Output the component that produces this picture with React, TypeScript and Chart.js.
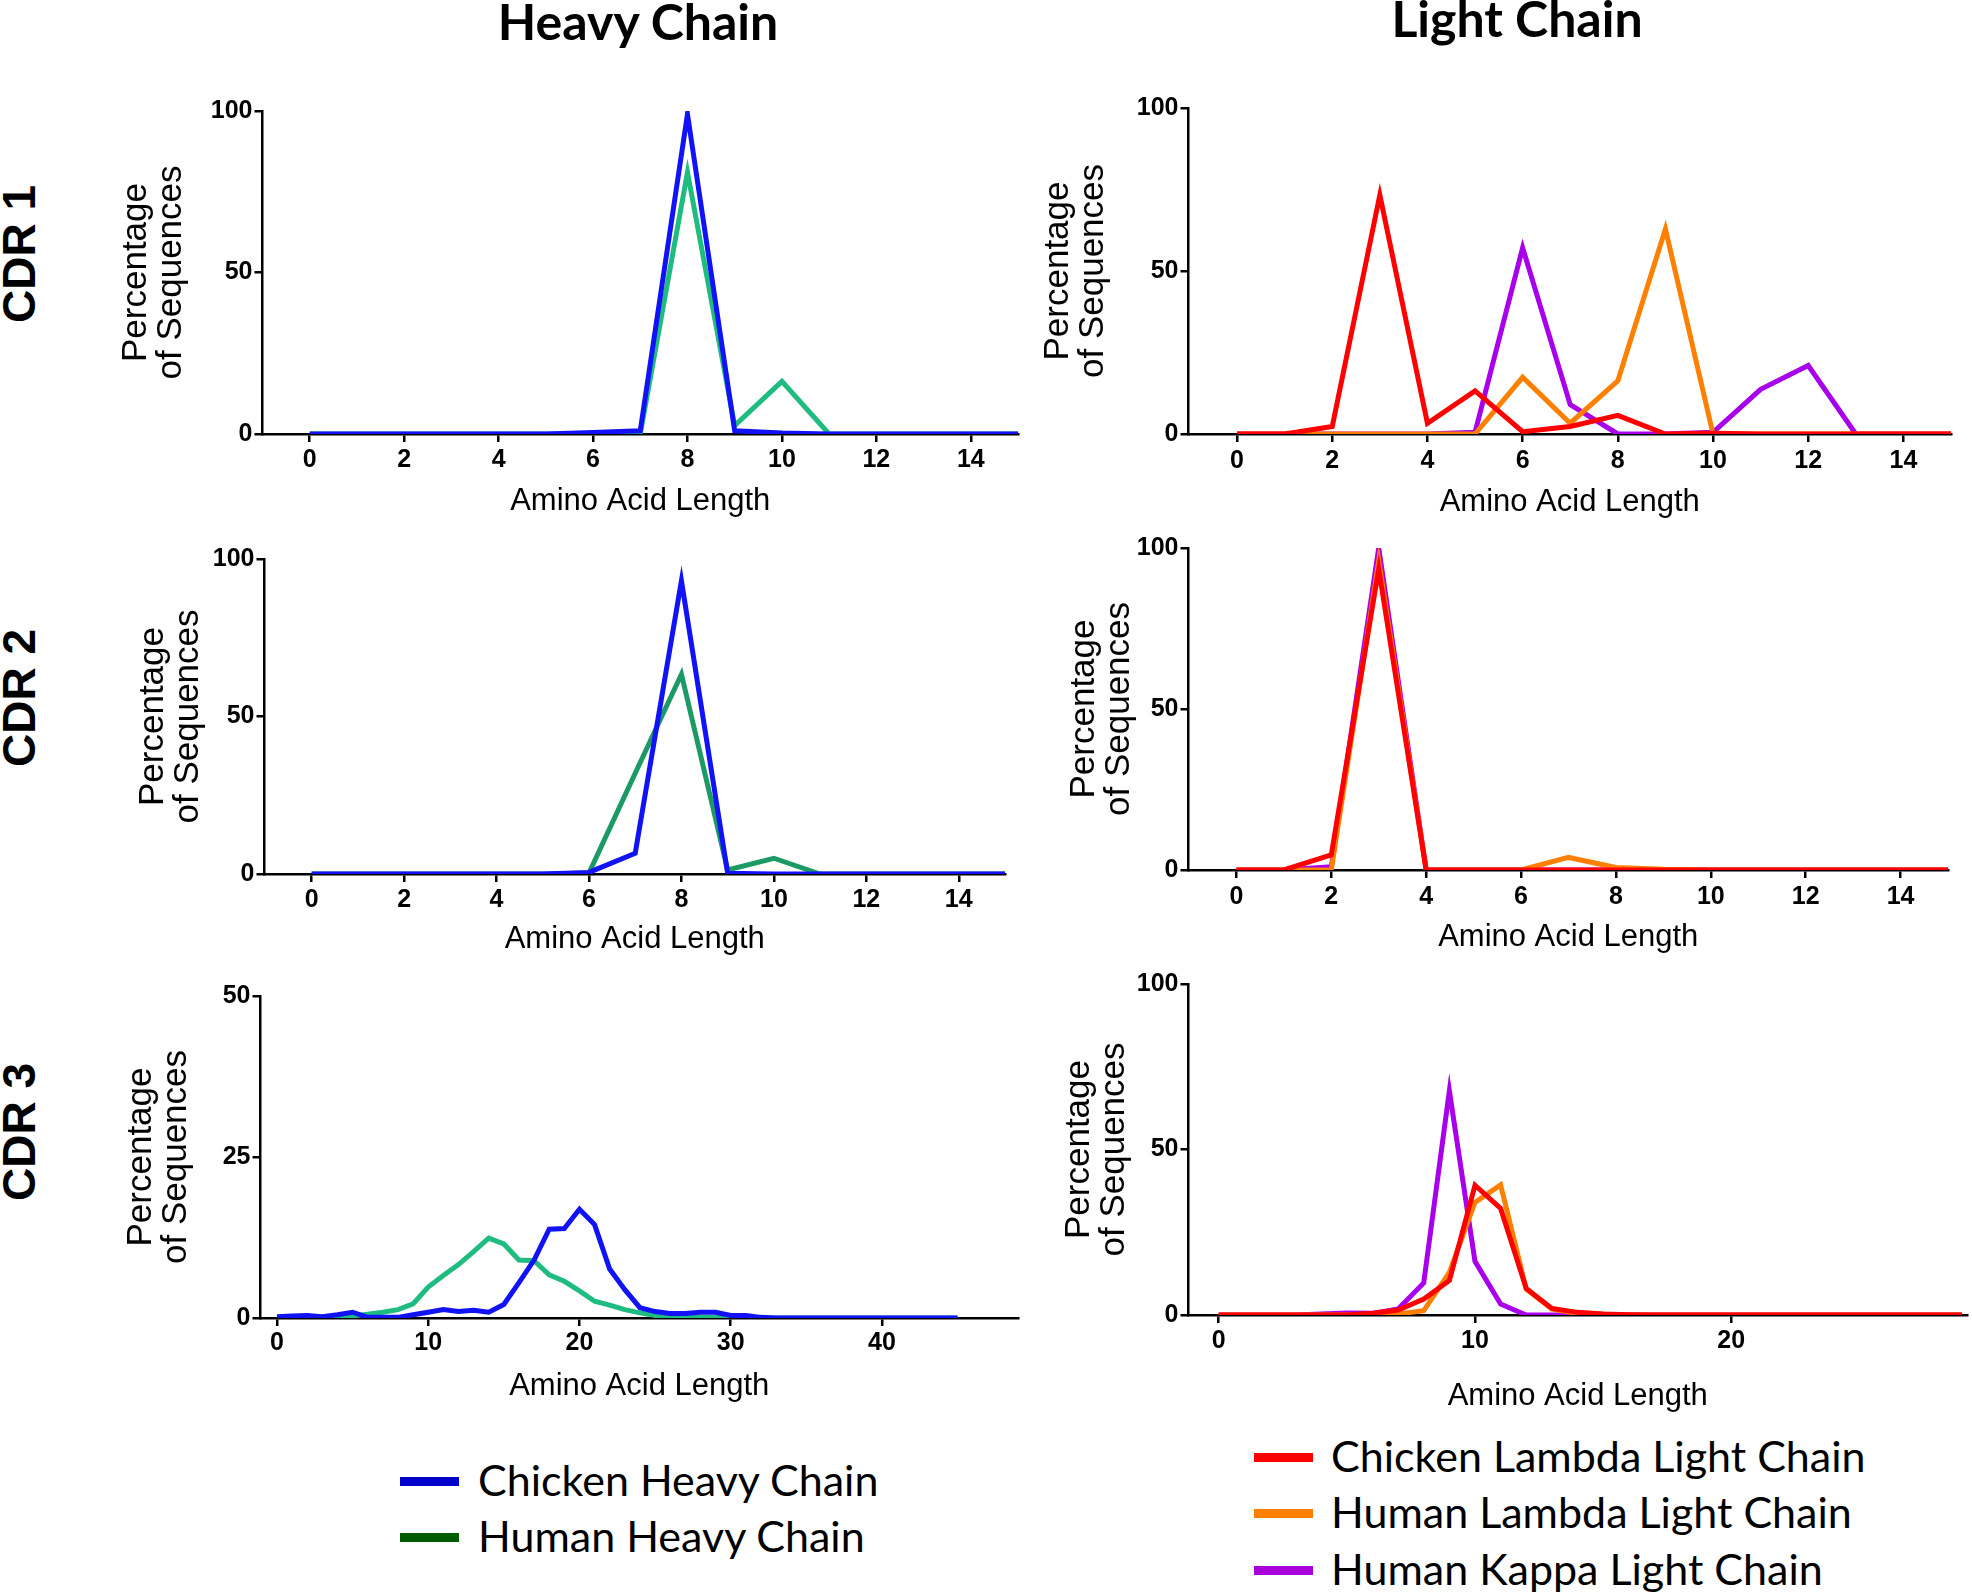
import { useEffect, useRef } from 'react'
import Chart from 'chart.js/auto'

// amino acid lengths on the x axis
const shortLengths = [0, 1, 2, 3, 4, 5, 6, 7, 8, 9, 10, 11, 12, 13, 14, 15]
const heavyCdr3Lengths = [
  0, 1, 2, 3, 4, 5, 6, 7, 8, 9, 10, 11, 12, 13, 14, 15, 16, 17, 18, 19, 20, 21, 22,
  23, 24, 25, 26, 27, 28, 29, 30, 31, 32, 33, 34, 35, 36, 37, 38, 39, 40, 41, 42, 43, 44, 45,
]
const lightCdr3Lengths = [
  0, 1, 2, 3, 4, 5, 6, 7, 8, 9, 10, 11, 12, 13, 14, 15, 16, 17, 18, 19, 20, 21, 22,
  23, 24, 25, 26, 27, 28, 29,
]

// tick labels
const shortTicks = [0, 2, 4, 6, 8, 10, 12, 14]
const heavyCdr3Ticks = [0, 10, 20, 30, 40]
const lightCdr3Ticks = [0, 10, 20]
const percentTicks = [0, 50, 100]
const heavyCdr3PercentTicks = [0, 25, 50]

// CDR 1
const heavyCdr1Chicken = [0, 0, 0, 0, 0, 0, 0.5, 1, 99, 1, 0.3, 0, 0, 0, 0, 0]
const heavyCdr1Human = [0, 0, 0, 0, 0, 0, 0, 0, 81, 2.6, 16.3, 0, 0, 0, 0, 0]
const lightCdr1ChickenLambda = [0, 0, 2.3, 73.3, 3.3, 13.2, 0.7, 2.3, 5.7, 0, 0.2, 0, 0, 0, 0, 0]
const lightCdr1HumanLambda = [0, 0, 0, 0, 0, 0, 17.4, 3.3, 16.3, 62.9, 0, 0, 0, 0, 0, 0]
const lightCdr1HumanKappa = [0, 0, 0, 0, 0, 0.5, 57.1, 9, 0, 0, 0.5, 13.7, 21, 0, 0, 0]

// CDR 2
const heavyCdr2Chicken = [0, 0, 0, 0, 0, 0, 0.5, 6.6, 93.1, 0.2, 0, 0, 0, 0, 0, 0]
const heavyCdr2Human = [0, 0, 0, 0, 0, 0, 0.3, 32, 63.4, 1.3, 5, 0, 0, 0, 0, 0]
const lightCdr2ChickenLambda = [0, 0, 4.7, 93.5, 0, 0, 0, 0, 0, 0, 0, 0, 0, 0, 0, 0]
const lightCdr2HumanLambda = [0, 0, 0, 96, 0, 0, 0, 3.9, 0.8, 0.2, 0, 0, 0, 0, 0, 0]
const lightCdr2HumanKappa = [0, 0, 1, 100, 0, 0, 0, 0, 0, 0, 0, 0, 0, 0, 0, 0]

// CDR 3
const heavyCdr3Chicken = [
  0.2, 0.3, 0.4, 0.2, 0.5, 0.9, 0.1, 0.1, 0.1, 0.5, 0.9, 1.3, 1.0, 1.2, 0.9, 2.1, 5.5, 9.0,
  13.8, 13.9, 16.9, 14.5, 7.6, 4.4, 1.6, 1.0, 0.7, 0.7, 0.9, 0.9, 0.4, 0.4, 0.1, 0, 0, 0,
  0, 0, 0, 0, 0, 0, 0, 0, 0, 0,
]
const heavyCdr3Human = [
  0, 0, 0, 0, 0.1, 0.3, 0.6, 0.9, 1.3, 2.2, 4.8, 6.6, 8.3, 10.3, 12.4, 11.5, 9.0, 8.9, 6.7,
  5.7, 4.2, 2.6, 2.0, 1.3, 0.8, 0.4, 0.3, 0.1, 0.1, 0.1, 0, 0, 0, 0, 0, 0, 0, 0, 0, 0, 0,
  0, 0, 0, 0, 0,
]
const lightCdr3ChickenLambda = [
  0, 0, 0, 0, 0, 0, 0.5, 1.5, 4.8, 10.4, 39.2, 32.2, 8.0, 2.0, 0.8, 0.3, 0.1, 0, 0, 0, 0,
  0, 0, 0, 0, 0, 0, 0, 0, 0,
]
const lightCdr3HumanLambda = [
  0, 0, 0, 0, 0, 0, 0, 0.3, 1.3, 12.9, 34, 39.3, 7.8, 1.8, 0.5, 0.2, 0, 0, 0, 0, 0, 0, 0,
  0, 0, 0, 0, 0, 0, 0,
]
const lightCdr3HumanKappa = [
  0, 0, 0, 0, 0.3, 0.6, 0.5, 1.8, 9.7, 67.7, 16.2, 3.3, 0, 0, 0, 0, 0, 0, 0, 0, 0, 0, 0, 0,
  0, 0, 0, 0, 0, 0,
]

const BLUE = '#1212f6'
const GREEN = '#1fbc80'
const GREEN_DARK = '#1b9a66'
const RED = '#ff0000'
const ORANGE = '#ff8000'
const PURPLE = '#a900ec'

const ARIAL = '"Liberation Sans", Arial, sans-serif'
const CALIBRI = 'Lato, "Open Sans", sans-serif'
const Y_TITLE_SIZE = 35
const X_TITLE_SIZE = 31
const TICK_SIZE = 25
const TICK_LEN = 8
const PAD_TOP = 20
const PAD_RIGHT = 6

interface Series {
  label: string
  values: number[]
  color: string
}

interface Geometry {
  axisX: number
  titleX: number
  yTop: number
  yBottom: number
  xRight: number
  xMin: number
  xMax: number
  tickY: number
  xTitleY: number
}

interface PanelProps {
  g: Geometry
  lengths: number[]
  series: Series[]
  xTicks: number[]
  yTicks: number[]
}

function Panel({ g, lengths, series, xTicks, yTicks }: PanelProps) {
  const chartRef = useRef<HTMLCanvasElement>(null)
  const left = g.titleX - Y_TITLE_SIZE / 2
  const top = g.yTop - PAD_TOP
  const width = Math.round(g.xRight + PAD_RIGHT - left)
  const height = Math.round(g.xTitleY + X_TITLE_SIZE / 2 - top)

  useEffect(() => {
    if (!chartRef.current) return
    const chart = new Chart(chartRef.current, {
      type: 'line',
      data: {
        datasets: series.map((s) => ({
          label: s.label,
          data: lengths.map((x, i) => ({ x, y: s.values[i] })),
          borderColor: s.color,
          backgroundColor: s.color,
          borderWidth: 5,
          pointRadius: 0,
          tension: 0,
          fill: false,
        })),
      },
      options: {
        animation: false,
        responsive: false,
        layout: { padding: { top: PAD_TOP, right: PAD_RIGHT, bottom: 0, left: 0 } },
        plugins: { legend: { display: false }, tooltip: { enabled: false } },
        scales: {
          x: {
            type: 'linear',
            min: g.xMin,
            max: g.xMax,
            afterBuildTicks: (scale) => {
              scale.ticks = xTicks.map((value) => ({ value }))
            },
            afterFit: (scale) => {
              scale.height = height - (g.yBottom - top)
            },
            border: { display: true, color: '#000', width: 2.5 },
            grid: { drawOnChartArea: false, drawTicks: true, tickLength: TICK_LEN, color: '#000', lineWidth: 2.5 },
            ticks: {
              color: '#000',
              autoSkip: false,
              maxRotation: 0,
              padding: g.tickY - g.yBottom - TICK_LEN - TICK_SIZE / 2,
              font: { family: ARIAL, size: TICK_SIZE, weight: 'bold', lineHeight: 1 },
            },
            title: {
              display: true,
              text: 'Amino Acid Length',
              color: '#000',
              padding: 0,
              font: { family: ARIAL, size: X_TITLE_SIZE, lineHeight: 1 },
            },
          },
          y: {
            type: 'linear',
            min: 0,
            max: yTicks[yTicks.length - 1],
            afterBuildTicks: (scale) => {
              scale.ticks = yTicks.map((value) => ({ value }))
            },
            afterFit: (scale) => {
              scale.width = g.axisX - left
            },
            border: { display: true, color: '#000', width: 2.5 },
            grid: { drawOnChartArea: false, drawTicks: true, tickLength: TICK_LEN, color: '#000', lineWidth: 2.5 },
            ticks: {
              color: '#000',
              padding: 2,
              font: { family: ARIAL, size: TICK_SIZE, weight: 'bold', lineHeight: 1 },
            },
            title: {
              display: true,
              text: ['Percentage', 'of Sequences'],
              color: '#000',
              padding: 0,
              font: { family: ARIAL, size: Y_TITLE_SIZE, lineHeight: 1 },
            },
          },
        },
      },
    })
    return () => chart.destroy()
  }, [g, lengths, series, xTicks, yTicks, top, height, left])

  return (
    <canvas
      ref={chartRef}
      width={width}
      height={height}
      style={{ position: 'absolute', left, top, width, height }}
    />
  )
}

const panels: PanelProps[] = [
  {
    g: { axisX: 262, titleX: 136, yTop: 111, yBottom: 434, xMin: -1.0, xMax: 15, xRight: 1017, tickY: 460, xTitleY: 501 },
    lengths: shortLengths,
    series: [
      { label: 'Chicken Heavy Chain', values: heavyCdr1Chicken, color: BLUE },
      { label: 'Human Heavy Chain', values: heavyCdr1Human, color: GREEN },
    ],
    xTicks: shortTicks,
    yTicks: percentTicks,
  },
  {
    g: { axisX: 1188, titleX: 1058, yTop: 108, yBottom: 434, xMin: -1.02, xMax: 15, xRight: 1950, tickY: 461, xTitleY: 502 },
    lengths: shortLengths,
    series: [
      { label: 'Chicken Lambda Light Chain', values: lightCdr1ChickenLambda, color: RED },
      { label: 'Human Lambda Light Chain', values: lightCdr1HumanLambda, color: ORANGE },
      { label: 'Human Kappa Light Chain', values: lightCdr1HumanKappa, color: PURPLE },
    ],
    xTicks: shortTicks,
    yTicks: percentTicks,
  },
  {
    g: { axisX: 264, titleX: 153, yTop: 559, yBottom: 874, xMin: -1.02, xMax: 15, xRight: 1004, tickY: 900, xTitleY: 939 },
    lengths: shortLengths,
    series: [
      { label: 'Chicken Heavy Chain', values: heavyCdr2Chicken, color: BLUE },
      { label: 'Human Heavy Chain', values: heavyCdr2Human, color: GREEN_DARK },
    ],
    xTicks: shortTicks,
    yTicks: percentTicks,
  },
  {
    g: { axisX: 1188, titleX: 1084, yTop: 548, yBottom: 870, xMin: -1.01, xMax: 15, xRight: 1947, tickY: 897, xTitleY: 937 },
    lengths: shortLengths,
    series: [
      { label: 'Chicken Lambda Light Chain', values: lightCdr2ChickenLambda, color: RED },
      { label: 'Human Lambda Light Chain', values: lightCdr2HumanLambda, color: ORANGE },
      { label: 'Human Kappa Light Chain', values: lightCdr2HumanKappa, color: PURPLE },
    ],
    xTicks: shortTicks,
    yTicks: percentTicks,
  },
  {
    g: { axisX: 260, titleX: 141, yTop: 996, yBottom: 1318, xMin: -1.09, xMax: 49, xRight: 1017, tickY: 1343, xTitleY: 1386 },
    lengths: heavyCdr3Lengths,
    series: [
      { label: 'Chicken Heavy Chain', values: heavyCdr3Chicken, color: BLUE },
      { label: 'Human Heavy Chain', values: heavyCdr3Human, color: GREEN },
    ],
    xTicks: heavyCdr3Ticks,
    yTicks: heavyCdr3PercentTicks,
  },
  {
    g: { axisX: 1188, titleX: 1079, yTop: 984, yBottom: 1315, xMin: -1.18, xMax: 29.2, xRight: 1966, tickY: 1341, xTitleY: 1396 },
    lengths: lightCdr3Lengths,
    series: [
      { label: 'Chicken Lambda Light Chain', values: lightCdr3ChickenLambda, color: RED },
      { label: 'Human Lambda Light Chain', values: lightCdr3HumanLambda, color: ORANGE },
      { label: 'Human Kappa Light Chain', values: lightCdr3HumanKappa, color: PURPLE },
    ],
    xTicks: lightCdr3Ticks,
    yTicks: percentTicks,
  },
]

const rowLabels = [
  { text: 'CDR 1', y: 254 },
  { text: 'CDR 2', y: 698 },
  { text: 'CDR 3', y: 1132 },
]

const heavyLegend = [
  { text: 'Chicken Heavy Chain', color: '#0000cc', y: 1481 },
  { text: 'Human Heavy Chain', color: '#005c00', y: 1537 },
]

const lightLegend = [
  { text: 'Chicken Lambda Light Chain', color: '#ff0000', y: 1457 },
  { text: 'Human Lambda Light Chain', color: '#ff8000', y: 1513 },
  { text: 'Human Kappa Light Chain', color: '#aa00dd', y: 1570 },
]

const LEGEND_SIZE = 43

function Legend({ items, lineX, textX }: { items: typeof heavyLegend; lineX: number; textX: number }) {
  return (
    <>
      {items.map((item) => (
        <div key={item.text}>
          <div
            style={{
              position: 'absolute',
              left: lineX,
              top: item.y - 4.5,
              width: 59,
              height: 9,
              background: item.color,
            }}
          />
          <div
            style={{
              position: 'absolute',
              left: textX,
              top: item.y - 22.6,
              fontFamily: CALIBRI,
              fontSize: LEGEND_SIZE,
              lineHeight: `${LEGEND_SIZE}px`,
              whiteSpace: 'nowrap',
              color: '#000',
            }}
          >
            {item.text}
          </div>
        </div>
      ))}
    </>
  )
}

export default function App() {
  return (
    <div
      style={{
        position: 'fixed',
        left: 0,
        top: 0,
        width: 1972,
        height: 1593,
        background: '#fff',
        overflow: 'hidden',
      }}
    >
      <div
        style={{
          position: 'absolute',
          left: 638 - 250,
          top: -4,
          width: 500,
          textAlign: 'center',
          fontFamily: CALIBRI,
          fontWeight: 'bold',
          fontSize: 50,
          lineHeight: '50px',
        }}
      >
        Heavy Chain
      </div>
      <div
        style={{
          position: 'absolute',
          left: 1517 - 250,
          top: -7,
          width: 500,
          textAlign: 'center',
          fontFamily: CALIBRI,
          fontWeight: 'bold',
          fontSize: 50,
          lineHeight: '50px',
        }}
      >
        Light Chain
      </div>
      {rowLabels.map((r) => (
        <div
          key={r.text}
          style={{
            position: 'absolute',
            left: 19,
            top: r.y,
            transform: 'translate(-50%, -50%) rotate(-90deg)',
            fontFamily: ARIAL,
            fontWeight: 'bold',
            fontSize: 46,
            lineHeight: '46px',
            whiteSpace: 'nowrap',
          }}
        >
          {r.text}
        </div>
      ))}
      {panels.map((p, i) => (
        <Panel key={i} {...p} />
      ))}
      <Legend items={heavyLegend} lineX={400} textX={478} />
      <Legend items={lightLegend} lineX={1254} textX={1331} />
    </div>
  )
}
